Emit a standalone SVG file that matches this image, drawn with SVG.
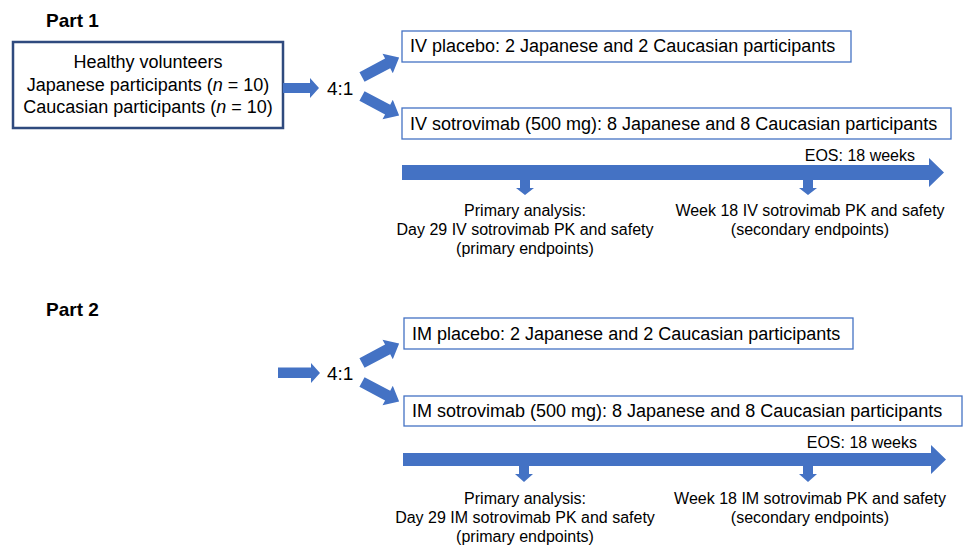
<svg xmlns="http://www.w3.org/2000/svg" width="965" height="545" viewBox="0 0 965 545">
<style>
text{font-family:"Liberation Sans",Arial,sans-serif;fill:#000}
.t{font-size:18px}
.s{font-size:16px}
.r{font-size:19px}
.h{font-size:19px;font-weight:bold}
.box{fill:#fff;stroke:#4472C4;stroke-width:1.3}
.nb{fill:#fff;stroke:#2F4A7E;stroke-width:2.5}
.ar{fill:#4472C4}
.m{text-anchor:middle}
</style>
<defs>
<path id="da" d="M0,-5.5 L29,-5.5 L29,-11 L42,0 L29,11 L29,5.5 L0,5.5 Z"/>
</defs>
<text class="h" x="46" y="27">Part 1</text>
<text class="h" x="46" y="316">Part 2</text>
<g id="healthy">
<rect class="nb" x="13" y="42" width="270" height="86"/>
<text class="t m" x="148" y="68">Healthy volunteers</text>
<text class="t m" x="148" y="91">Japanese participants (<tspan font-style="italic">n</tspan> = 10)</text>
<text class="t m" x="148" y="113">Caucasian participants (<tspan font-style="italic">n</tspan> = 10)</text>
</g>
<g id="ratio1"><text class="r" x="327" y="95">4:1</text></g>
<g id="ratio2"><text class="r" x="327" y="380">4:1</text></g>
<g id="ivplacebo">
<rect class="box" x="402" y="31" width="449" height="31"/>
<text class="t" x="410" y="52">IV placebo: 2 Japanese and 2 Caucasian participants</text>
</g>
<g id="ivsotro">
<rect class="box" x="402" y="108" width="549" height="31"/>
<text class="t" x="410" y="130">IV sotrovimab (500 mg): 8 Japanese and 8 Caucasian participants</text>
</g>
<g id="implacebo">
<rect class="box" x="404" y="318" width="449" height="31"/>
<text class="t" x="412" y="340">IM placebo: 2 Japanese and 2 Caucasian participants</text>
</g>
<g id="imsotro">
<rect class="box" x="404" y="396" width="558" height="30"/>
<text class="t" x="412" y="417">IM sotrovimab (500 mg): 8 Japanese and 8 Caucasian participants</text>
</g>
<g id="p1labels">
<text class="s" x="915" y="161" text-anchor="end">EOS: 18 weeks</text>
<text class="s m" x="525" y="216">Primary analysis:</text>
<text class="s m" x="525" y="235">Day 29 IV sotrovimab PK and safety</text>
<text class="s m" x="525" y="254">(primary endpoints)</text>
<text class="s m" x="810" y="216">Week 18 IV sotrovimab PK and safety</text>
<text class="s m" x="810" y="235">(secondary endpoints)</text>
</g>
<g id="p2labels">
<text class="s" x="917" y="448" text-anchor="end">EOS: 18 weeks</text>
<text class="s m" x="525" y="504">Primary analysis:</text>
<text class="s m" x="525" y="523">Day 29 IM sotrovimab PK and safety</text>
<text class="s m" x="525" y="542">(primary endpoints)</text>
<text class="s m" x="810" y="504">Week 18 IM sotrovimab PK and safety</text>
<text class="s m" x="810" y="523">(secondary endpoints)</text>
</g>
<g id="connectors" class="ar">
<path d="M283,83 L310,83 L310,78 L319,88 L310,98 L310,93 L283,93 Z"/>
<use href="#da" transform="translate(362,77) rotate(-27.8)"/>
<use href="#da" transform="translate(362,96) rotate(27.8)"/>
<path d="M402,165 L929,165 L929,158 L944,172.5 L929,187 L929,180 L402,180 Z"/>
<path d="M520,180 L530,180 L530,188 L534,188 L525,195 L516,188 L520,188 Z"/>
<path d="M803,180 L813,180 L813,188 L817,188 L808,195 L799,188 L803,188 Z"/>
<path d="M278,367.5 L311,367.5 L311,363 L320,373 L311,383 L311,378 L278,378 Z"/>
<use href="#da" transform="translate(362,363) rotate(-27.8)"/>
<use href="#da" transform="translate(362,382) rotate(27.8)"/>
<path d="M403,453 L931,453 L931,445 L946,459.5 L931,474 L931,466 L403,466 Z"/>
<path d="M519,466 L529,466 L529,474 L533,474 L524,482 L515,474 L519,474 Z"/>
<path d="M803,466 L813,466 L813,474 L817,474 L808,482 L799,474 L803,474 Z"/>
</g>
</svg>
